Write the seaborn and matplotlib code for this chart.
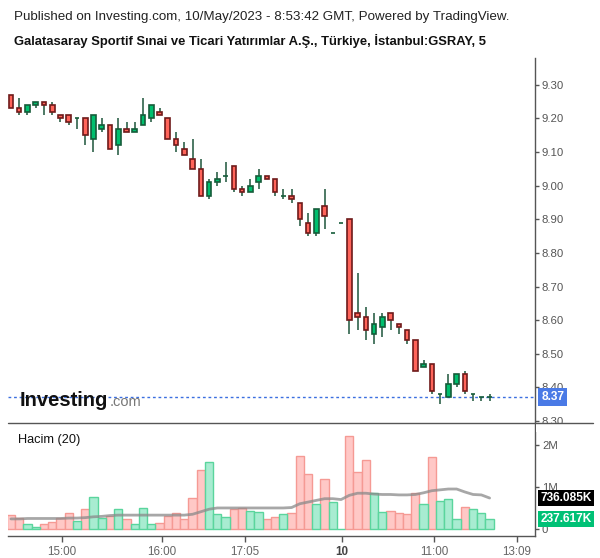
import numpy as np
import pandas as pd
import matplotlib
matplotlib.use("Agg")
import matplotlib.pyplot as plt
import matplotlib.transforms as mtransforms
from matplotlib.lines import Line2D
from matplotlib.patches import Rectangle
import seaborn as sns

# 5-minute candles, GSRAY
opens = [9.27, 9.23, 9.22, 9.24, 9.25, 9.24, 9.21, 9.21, 9.20, 9.20,
         9.14, 9.17, 9.18, 9.12, 9.17, 9.16, 9.18, 9.20, 9.22, 9.20,
         9.14, 9.11, 9.08, 9.05, 8.97, 9.01, 9.03, 9.06, 8.99, 8.98,
         9.01, 9.03, 9.02, 8.97, 8.97, 8.95, 8.89, 8.86, 8.94, 8.86,
         8.89, 8.90, 8.62, 8.61, 8.56, 8.58, 8.62, 8.59, 8.57, 8.54,
         8.46, 8.47, 8.38, 8.37, 8.41, 8.44, 8.38, 8.37, 8.37]
highs = [9.27, 9.26, 9.24, 9.25, 9.25, 9.25, 9.21, 9.21, 9.20, 9.20,
         9.21, 9.20, 9.18, 9.20, 9.19, 9.19, 9.26, 9.24, 9.23, 9.20,
         9.16, 9.13, 9.14, 9.08, 9.02, 9.04, 9.07, 9.06, 9.00, 9.02,
         9.05, 9.03, 9.02, 8.99, 8.99, 8.95, 8.92, 8.93, 8.99, 8.86,
         8.89, 8.90, 8.74, 8.64, 8.62, 8.62, 8.62, 8.59, 8.57, 8.54,
         8.48, 8.47, 8.38, 8.44, 8.44, 8.45, 8.38, 8.37, 8.38]
lows = [9.23, 9.21, 9.21, 9.23, 9.21, 9.21, 9.19, 9.18, 9.17, 9.12,
        9.10, 9.16, 9.11, 9.09, 9.16, 9.16, 9.18, 9.19, 9.21, 9.14,
        9.10, 9.09, 9.05, 8.97, 8.96, 9.00, 9.01, 8.98, 8.97, 8.98,
        8.99, 9.02, 8.97, 8.96, 8.95, 8.88, 8.85, 8.85, 8.87, 8.86,
        8.89, 8.56, 8.57, 8.54, 8.53, 8.55, 8.57, 8.56, 8.53, 8.45,
        8.46, 8.38, 8.35, 8.37, 8.40, 8.38, 8.36, 8.36, 8.36]
closes = [9.23, 9.22, 9.24, 9.25, 9.24, 9.22, 9.20, 9.19, 9.20, 9.15,
          9.21, 9.18, 9.11, 9.17, 9.16, 9.17, 9.21, 9.24, 9.21, 9.14,
          9.12, 9.09, 9.05, 8.97, 9.01, 9.02, 9.03, 8.99, 8.98, 9.00,
          9.03, 9.02, 8.98, 8.97, 8.96, 8.90, 8.86, 8.93, 8.91, 8.86,
          8.89, 8.60, 8.61, 8.57, 8.59, 8.61, 8.60, 8.58, 8.54, 8.45,
          8.47, 8.39, 8.38, 8.41, 8.44, 8.39, 8.38, 8.37, 8.37]

# volume in millions and its 20-period average
volumes = [0.34, 0.27, 0.12, 0.05, 0.12, 0.17, 0.27, 0.38, 0.20, 0.48,
           0.77, 0.27, 0.31, 0.48, 0.24, 0.12, 0.50, 0.12, 0.15, 0.31,
           0.38, 0.24, 0.74, 1.41, 1.60, 0.36, 0.29, 0.48, 0.50, 0.43,
           0.41, 0.24, 0.29, 0.36, 0.37, 1.74, 1.31, 0.60, 1.18, 0.64,
           0.01, 2.20, 1.35, 1.64, 0.85, 0.40, 0.43, 0.38, 0.36, 0.85,
           0.59, 1.71, 0.66, 0.71, 0.24, 0.52, 0.47, 0.38, 0.238]
vol_ma = [0.24, 0.24, 0.25, 0.25, 0.25, 0.25, 0.25, 0.26, 0.26, 0.27,
          0.29, 0.30, 0.32, 0.33, 0.33, 0.33, 0.33, 0.33, 0.33, 0.33,
          0.33, 0.33, 0.35, 0.41, 0.47, 0.50, 0.50, 0.50, 0.50, 0.50,
          0.50, 0.50, 0.50, 0.50, 0.51, 0.60, 0.64, 0.68, 0.72, 0.72,
          0.70, 0.80, 0.85, 0.85, 0.83, 0.82, 0.82, 0.81, 0.81, 0.82,
          0.86, 0.91, 0.93, 0.95, 0.95, 0.88, 0.82, 0.81, 0.736]

time_ticks = [6.2, 18.3, 28.3, 40.1, 51.3, 61.3]
time_labels = ['15:00', '16:00', '17:05', '10', '11:00', '13:09']
price_ticks = [8.30, 8.40, 8.50, 8.60, 8.70, 8.80, 8.90, 9.00, 9.10, 9.20, 9.30]
vol_ticks = [0, 1, 2]
vol_labels = ['0', '1M', '2M']
last_price = 8.37
last_ma_label = '736.085K'
last_vol_label = '237.617K'

df = pd.DataFrame({'idx': np.arange(len(opens)), 'open': opens, 'high': highs,
                   'low': lows, 'close': closes, 'volume': volumes, 'ma': vol_ma})
df['dir'] = np.where(df['close'] >= df['open'], 'up', 'down')

sns.set_theme(style="white")
plt.rcParams['font.family'] = ['Liberation Sans', 'DejaVu Sans']

W, H = 600, 558
fig = plt.figure(figsize=(6, 5.58), dpi=100)
fig.patch.set_facecolor('white')

def fx(px):
    return px / W

def fy(py):
    return 1 - py / H

ax = fig.add_axes([fx(8), fy(423), fx(527), (423 - 58) / H])
vax = fig.add_axes([fx(8), fy(536), fx(527), (536 - 423) / H], sharex=ax)

axis_col = '#555555'
wick_col = '#1d553a'

# candles
up = df['dir'] == 'up'
ax.vlines(df['idx'], df['low'], df['high'], color=wick_col, lw=1.1, zorder=1)
body_low = df[['open', 'close']].min(axis=1)
body_h = (df['close'] - df['open']).abs()
ax.bar(df['idx'][up], body_h[up], bottom=body_low[up], width=0.55,
       color='#00bf6e', edgecolor='#155c3a', linewidth=1.2, zorder=2)
ax.bar(df['idx'][~up], body_h[~up], bottom=body_low[~up], width=0.55,
       color='#ff645a', edgecolor='#6e1a1a', linewidth=1.2, zorder=2)

ax.axhline(last_price, color='#3b6fe0', lw=1, ls=(0, (2, 2)), zorder=0)

ax.set_xlim(-0.36, 63.5)
ax.set_ylim(8.294, 9.380)
ax.set_yticks(price_ticks)
ax.set_yticklabels([f'{t:.2f}' for t in price_ticks])
ax.yaxis.tick_right()
ax.tick_params(axis='y', right=True, length=3, width=1, color=axis_col,
               labelsize=8.2, labelcolor='#555555', pad=2)
ax.tick_params(axis='x', bottom=False, labelbottom=False)
for s in ['top', 'left', 'bottom']:
    ax.spines[s].set_visible(False)
ax.spines['right'].set_color(axis_col)
ax.spines['right'].set_linewidth(1)
ax.set_xlabel('')
ax.set_ylabel('')

# volume
palette = {'up': '#a8ecd1', 'down': '#ffc8c6'}
sns.barplot(data=df, x='idx', y='volume', hue='dir', palette=palette,
            native_scale=True, width=1, dodge=False, legend=False,
            errorbar=None, saturation=1, linewidth=1, ax=vax)
for p in vax.patches:
    fc = matplotlib.colors.to_hex(p.get_facecolor())
    p.set_edgecolor('#5ad59d' if fc == palette['up'] else '#f59a94')
sns.lineplot(data=df, x='idx', y='ma', color='#8a8a8a', alpha=0.75, lw=2, ax=vax)

vax.set_xlim(-0.36, 63.5)
vax.set_ylim(-0.166, 2.518)
vax.set_yticks(vol_ticks)
vax.set_yticklabels(vol_labels)
vax.yaxis.tick_right()
vax.tick_params(axis='y', right=True, left=False, length=3, width=1, color=axis_col,
                labelsize=8.2, labelcolor='#555555', pad=2)
vax.set_xticks(time_ticks)
vax.set_xticklabels(time_labels)
vax.tick_params(axis='x', bottom=True, length=4, width=1, color=axis_col,
                labelsize=8.4, labelcolor='#666666', pad=3)
vax.get_xticklabels()[3].set_fontweight('bold')
vax.get_xticklabels()[3].set_color('#444444')
for s in ['top', 'left']:
    vax.spines[s].set_visible(False)
for s in ['right', 'bottom']:
    vax.spines[s].set_color(axis_col)
    vax.spines[s].set_linewidth(1)
vax.set_xlabel('')
vax.set_ylabel('')

# value tags on the right axis
tr = mtransforms.blended_transform_factory(ax.transAxes, ax.transData)
ax.text(1.012, last_price, f'{last_price:.2f}', transform=tr, ha='left', va='center',
        color='white', fontsize=8.6, fontweight='bold', zorder=20, clip_on=False,
        bbox=dict(boxstyle='square,pad=0.25', fc='#4a7ae6', ec='none'))
vtr = mtransforms.blended_transform_factory(vax.transAxes, vax.transData)
vax.text(1.01, vol_ma[-1], last_ma_label, transform=vtr, ha='left', va='center',
         color='white', fontsize=8.6, fontweight='bold', zorder=20, clip_on=False,
         bbox=dict(boxstyle='square,pad=0.2', fc='black', ec='none'))
vax.text(1.01, volumes[-1], last_vol_label, transform=vtr, ha='left', va='center',
         color='white', fontsize=8.6, fontweight='bold', zorder=20, clip_on=False,
         bbox=dict(boxstyle='square,pad=0.2', fc='#00c176', ec='none'))

# hide the part of the 8.30 label below the separator, then the separator
fig.add_artist(Rectangle((fx(536), fy(432)), fx(64), 9 / H, transform=fig.transFigure,
                         fc='white', ec='none', zorder=9))
fig.add_artist(Line2D([fx(8), fx(593)], [fy(423), fy(423)], transform=fig.transFigure,
                      color=axis_col, lw=1, zorder=10))

# header texts
fig.text(fx(14), fy(17), 'Published on Investing.com, 10/May/2023 - 8:53:42 GMT, Powered by TradingView.',
         fontsize=9.6, color='#222222', va='center', ha='left')
fig.text(fx(14), fy(41), 'Galatasaray Sportif Sınai ve Ticari Yatırımlar A.Ş., Türkiye, İstanbul:GSRAY, 5',
         fontsize=9.4, fontweight='bold', color='#111111', va='center', ha='left')
fig.text(fx(18), fy(440), 'Hacim (20)', fontsize=9.2, color='#111111', va='center', ha='left')

# watermark logo
fig.text(fx(20), fy(406), 'Investing', fontsize=14.5, fontweight='bold', color='#111111',
         va='baseline', ha='left', zorder=15)
fig.text(fx(110), fy(406), '.com', fontsize=10.5, color='#777777', va='baseline', ha='left', zorder=15)

fig.savefig('out.png', dpi=100, facecolor='white')
